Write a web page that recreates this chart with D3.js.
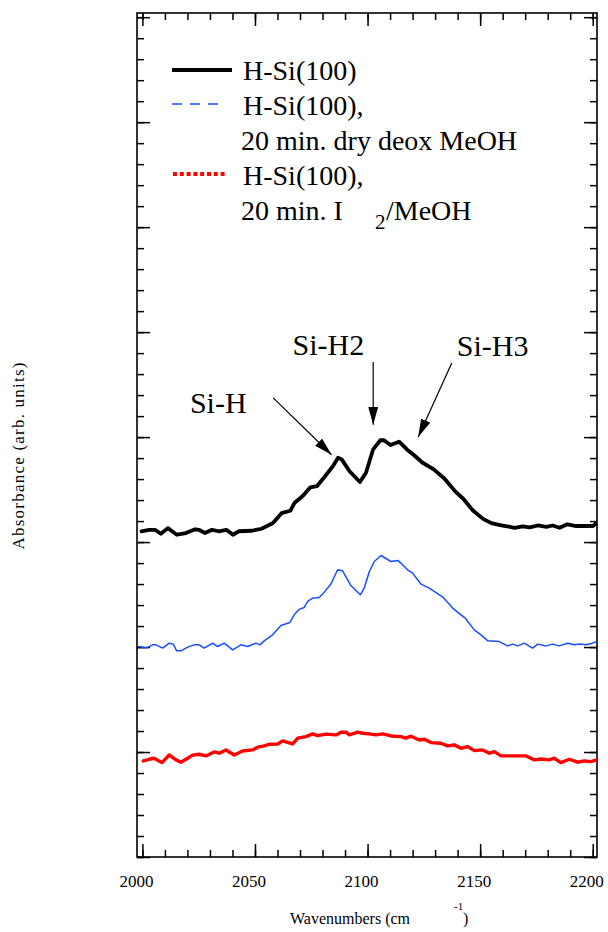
<!DOCTYPE html>
<html>
<head>
<meta charset="utf-8">
<script src="https://cdn.jsdelivr.net/npm/d3@7"></script>
<style>
  html, body { margin: 0; padding: 0; background: #fff; }
  svg { display: block; }
  text { font-family: "Liberation Serif", "Times New Roman", serif; fill: #000; }
</style>
</head>
<body>
<svg id="chart" width="608" height="932"></svg>
<script>
// IR absorbance spectra of H-terminated Si(100), stacked with vertical offsets.
// Each series: [wavenumber (cm^-1), absorbance (arb. units, offset)]
const hSi = [
  [1999.6, 3.103], [2003.0, 3.117], [2005.6, 3.117], [2008.2, 3.079], [2011.3, 3.133],
  [2015.3, 3.070], [2019.3, 3.086], [2023.5, 3.122], [2025.1, 3.117], [2027.8, 3.086],
  [2030.9, 3.117], [2034.0, 3.103], [2037.3, 3.117], [2040.2, 3.070], [2042.9, 3.103],
  [2048.6, 3.108], [2052.9, 3.127], [2058.0, 3.181], [2061.8, 3.275], [2065.7, 3.298],
  [2067.5, 3.372], [2071.3, 3.441], [2074.6, 3.522], [2077.5, 3.532], [2081.3, 3.632],
  [2084.6, 3.723], [2086.9, 3.804], [2088.6, 3.785], [2092.0, 3.675], [2096.6, 3.572],
  [2099.3, 3.661], [2102.4, 3.880], [2105.7, 3.970], [2107.3, 3.970], [2110.2, 3.925],
  [2114.0, 3.956], [2117.6, 3.880], [2120.8, 3.825], [2124.3, 3.758], [2129.4, 3.693],
  [2134.2, 3.603], [2138.6, 3.491], [2142.7, 3.408], [2146.8, 3.300], [2151.3, 3.221],
  [2155.0, 3.181], [2159.4, 3.160], [2165.3, 3.136], [2168.9, 3.149], [2172.0, 3.141],
  [2175.6, 3.158], [2179.4, 3.144], [2182.2, 3.158], [2185.3, 3.136], [2188.7, 3.169],
  [2192.7, 3.153], [2200.1, 3.153], [2201.6, 3.181]
];

const hSiMeOH = [
  [1998.6, 2.005], [2001.6, 1.990], [2004.5, 2.021], [2006.0, 2.021], [2009.0, 1.990],
  [2011.9, 2.037], [2013.7, 2.028], [2015.2, 1.964], [2017.1, 1.964], [2020.1, 1.999],
  [2023.0, 2.021], [2025.2, 2.021], [2027.5, 1.990], [2031.2, 2.037], [2033.4, 2.005],
  [2036.3, 2.037], [2040.1, 1.973], [2043.8, 2.021], [2046.7, 2.005], [2050.4, 2.037],
  [2052.2, 2.021], [2054.1, 2.059], [2057.8, 2.116], [2061.5, 2.205], [2065.5, 2.234],
  [2067.4, 2.307], [2069.7, 2.361], [2071.9, 2.377], [2073.4, 2.434], [2075.6, 2.466],
  [2078.5, 2.472], [2080.8, 2.523], [2083.7, 2.600], [2086.7, 2.736], [2088.9, 2.726],
  [2092.6, 2.586], [2096.8, 2.498], [2098.5, 2.561], [2100.8, 2.720], [2103.0, 2.815],
  [2106.0, 2.872], [2110.4, 2.815], [2113.4, 2.825], [2114.8, 2.800], [2117.8, 2.736],
  [2120.0, 2.704], [2123.7, 2.600], [2127.4, 2.561], [2133.4, 2.476], [2137.8, 2.371],
  [2141.5, 2.307], [2143.4, 2.275], [2147.4, 2.164], [2150.4, 2.116], [2153.4, 2.059],
  [2158.5, 2.052], [2162.2, 2.011], [2164.5, 2.028], [2166.7, 2.011], [2169.6, 2.037],
  [2173.3, 1.990], [2175.6, 2.028], [2179.3, 2.011], [2182.2, 2.028], [2185.2, 2.011],
  [2188.9, 2.037], [2191.8, 2.021], [2194.0, 2.030], [2197.0, 2.021], [2200.0, 2.037],
  [2201.5, 2.050]
];

const hSiI2 = [
  [2000.4, 0.915], [2003.0, 0.931], [2005.2, 0.941], [2008.7, 0.899], [2011.9, 0.972],
  [2014.9, 0.925], [2017.1, 0.903], [2020.1, 0.941], [2022.3, 0.970], [2025.2, 0.979],
  [2028.2, 0.963], [2031.9, 1.001], [2034.1, 0.989], [2037.1, 1.020], [2040.8, 0.972],
  [2044.5, 1.010], [2049.0, 1.020], [2051.2, 1.046], [2054.1, 1.058], [2056.3, 1.074],
  [2060.1, 1.077], [2062.3, 1.106], [2066.7, 1.077], [2069.0, 1.132], [2072.6, 1.147],
  [2075.6, 1.173], [2077.8, 1.156], [2081.5, 1.170], [2086.0, 1.163], [2088.2, 1.189],
  [2090.4, 1.189], [2091.9, 1.163], [2095.6, 1.189], [2097.8, 1.179], [2100.8, 1.173],
  [2103.7, 1.163], [2106.7, 1.173], [2110.4, 1.153], [2114.8, 1.147], [2117.1, 1.132],
  [2119.3, 1.151], [2123.0, 1.115], [2125.2, 1.122], [2128.2, 1.090], [2132.6, 1.084],
  [2135.6, 1.058], [2138.5, 1.068], [2141.5, 1.036], [2144.5, 1.051], [2147.4, 1.013],
  [2151.1, 1.020], [2154.1, 0.989], [2156.3, 1.004], [2159.3, 0.963], [2165.9, 0.963],
  [2170.4, 0.963], [2174.1, 0.925], [2177.0, 0.934], [2180.7, 0.925], [2182.9, 0.941],
  [2185.9, 0.899], [2189.6, 0.931], [2193.3, 0.903], [2196.3, 0.915], [2199.2, 0.909],
  [2201.8, 0.925]
];

const xTickLabels = ["2000", "2050", "2100", "2150", "2200"];

const legendLabels = [
  ["H-Si(100)"],
  ["H-Si(100),", "20 min. dry deox MeOH"],
  ["H-Si(100),", "20 min. I"]
];

// Peak assignments: label anchor and arrow tail/tip, in data units
const peakLabels = ["Si-H", "Si-H2", "Si-H3"];
const peakLabelAt = [[2021.1, 4.230], [2066.7, 4.786], [2139.6, 4.769]];
const peakArrowFrom = [[2058.1, 4.373], [2102.5, 4.716], [2137.4, 4.706]];
const peakArrowTo = [[2084.0, 3.832], [2102.5, 4.118], [2122.5, 4.001]];

const svg = d3.select("#chart");
const frame = { left: 137, right: 597, top: 13, bottom: 857 };

const x = d3.scaleLinear().domain([1997.6, 2201.9]).range([frame.left, frame.right]);
const y = d3.scaleLinear().domain([0, 8.04]).range([frame.bottom, frame.top]);

svg.append("defs").append("clipPath").attr("id", "plotClip")
  .append("rect")
  .attr("x", frame.left).attr("y", frame.top)
  .attr("width", frame.right - frame.left).attr("height", frame.bottom - frame.top);

// Tick positions
const xMinor = d3.range(2000, 2201, 10);
const xMajor = xMinor.filter(v => v % 50 === 0);
const yMinor = d3.range(0, 41).map(i => i / 5);
const yMajor = yMinor.filter((v, i) => i % 5 === 0);

const majorLen = 13, minorLen = 7;
const axisColor = "#000";

function tickAxis(axisGen, transform) {
  const g = svg.append("g").attr("transform", transform).call(axisGen);
  g.select(".domain").remove();
  g.selectAll(".tick line").attr("stroke", axisColor).attr("stroke-width", 1.5);
  g.selectAll(".tick text").remove();
  return g;
}

// Inward ticks on all four sides
[[d3.axisTop, `translate(0,${frame.bottom})`], [d3.axisBottom, `translate(0,${frame.top})`]]
  .forEach(([fn, tr]) => {
    tickAxis(fn(x).tickValues(xMinor).tickSize(minorLen), tr);
    tickAxis(fn(x).tickValues(xMajor).tickSize(majorLen), tr);
  });
[[d3.axisRight, `translate(${frame.left},0)`], [d3.axisLeft, `translate(${frame.right},0)`]]
  .forEach(([fn, tr]) => {
    tickAxis(fn(y).tickValues(yMinor).tickSize(minorLen), tr);
    tickAxis(fn(y).tickValues(yMajor).tickSize(majorLen), tr);
  });

// Frame
svg.append("rect")
  .attr("x", frame.left).attr("y", frame.top)
  .attr("width", frame.right - frame.left).attr("height", frame.bottom - frame.top)
  .attr("fill", "none").attr("stroke", axisColor).attr("stroke-width", 1.6);

// X tick labels
svg.append("g").selectAll("text")
  .data(xTickLabels)
  .join("text")
  .attr("x", d => x(+d) - 6)
  .attr("y", 887)
  .attr("text-anchor", "middle")
  .style("font-size", "17px")
  .text(d => d);

// Axis titles
const xTitle = svg.append("text")
  .attr("x", 290).attr("y", 924)
  .style("font-size", "16px");
xTitle.append("tspan").text("Wavenumbers (cm");
xTitle.append("tspan").attr("x", 454).attr("y", 910).style("font-size", "11px").text("-1");
xTitle.append("tspan").attr("x", 463).attr("y", 924).text(")");

svg.append("text")
  .attr("transform", "translate(24,456) rotate(-90)")
  .attr("text-anchor", "middle")
  .attr("textLength", 187)
  .attr("lengthAdjust", "spacing")
  .style("font-size", "17px")
  .text("Absorbance (arb. units)");

// Spectra
const line = d3.line().x(d => x(d[0])).y(d => y(d[1]));
const plot = svg.append("g").attr("clip-path", "url(#plotClip)");

const series = [
  { data: hSiI2, color: "#ff0000", width: 3.4 },
  { data: hSiMeOH, color: "#1a4fff", width: 1.5 },
  { data: hSi, color: "#000000", width: 3.8 }
];
plot.selectAll("path.spectrum")
  .data(series)
  .join("path")
  .attr("class", "spectrum")
  .attr("d", d => line(d.data))
  .attr("fill", "none")
  .attr("stroke", d => d.color)
  .attr("stroke-width", d => d.width)
  .attr("stroke-linejoin", "round")
  .attr("stroke-linecap", "round");

// Peak annotations with arrows
svg.append("defs").append("marker")
  .attr("id", "arrowHead")
  .attr("viewBox", "0 0 18 10")
  .attr("refX", 18).attr("refY", 5)
  .attr("markerWidth", 18).attr("markerHeight", 10)
  .attr("markerUnits", "userSpaceOnUse")
  .attr("orient", "auto")
  .append("path").attr("d", "M0,0 L18,5 L0,10 Z").attr("fill", "#000");

peakLabels.forEach((label, i) => {
  svg.append("text")
    .attr("x", x(peakLabelAt[i][0])).attr("y", y(peakLabelAt[i][1]))
    .style("font-size", "30px")
    .text(label);
  svg.append("line")
    .attr("x1", x(peakArrowFrom[i][0])).attr("y1", y(peakArrowFrom[i][1]))
    .attr("x2", x(peakArrowTo[i][0])).attr("y2", y(peakArrowTo[i][1]))
    .attr("stroke", "#000").attr("stroke-width", 1.2)
    .attr("marker-end", "url(#arrowHead)");
});

// Legend
const legend = svg.append("g");
const swatchX0 = 172;
legend.append("line")
  .attr("x1", swatchX0).attr("x2", 232).attr("y1", 70).attr("y2", 70)
  .attr("stroke", "#000").attr("stroke-width", 4);
legend.append("line")
  .attr("x1", swatchX0).attr("x2", 222).attr("y1", 104).attr("y2", 104)
  .attr("stroke", "#1a4fff").attr("stroke-width", 1.5)
  .attr("stroke-dasharray", "10,8");
legend.append("line")
  .attr("x1", swatchX0 + 1).attr("x2", 227).attr("y1", 174).attr("y2", 174)
  .attr("stroke", "#ff0000").attr("stroke-width", 4)
  .attr("stroke-dasharray", "4,2.8");

const legendFont = "28px";
legend.append("text").attr("x", 243).attr("y", 80).style("font-size", legendFont).text(legendLabels[0][0]);
legend.append("text").attr("x", 243).attr("y", 115).style("font-size", legendFont).text(legendLabels[1][0]);
legend.append("text").attr("x", 241).attr("y", 150).style("font-size", legendFont).text(legendLabels[1][1]);
legend.append("text").attr("x", 243).attr("y", 185).style("font-size", legendFont).text(legendLabels[2][0]);
const iodineRow = legend.append("text").attr("x", 241).attr("y", 220).style("font-size", legendFont);
iodineRow.append("tspan").text(legendLabels[2][1]);
iodineRow.append("tspan").attr("x", 375).attr("y", 229).style("font-size", "21px").text("2");
iodineRow.append("tspan").attr("x", 386).attr("y", 220).text("/MeOH");
</script>
</body>
</html>
